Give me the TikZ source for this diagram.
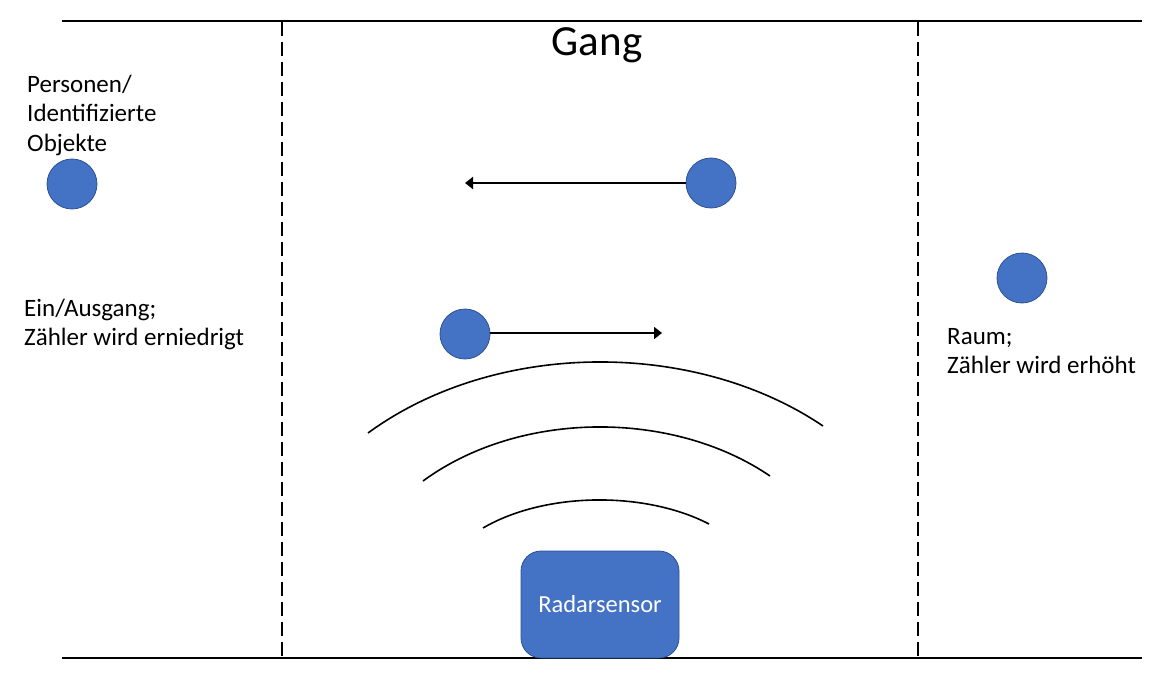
\documentclass[tikz,border=0pt]{standalone}
\usepackage{fontspec}
\setmainfont{Carlito}
\usetikzlibrary{arrows.meta}
\definecolor{objblue}{HTML}{4472C4}
\definecolor{objedge}{HTML}{2F528F}
\tikzset{
  wall/.style={line width=2.8pt, line cap=butt},
  zone/.style={line width=1.8pt, dash pattern=on 14pt off 6pt},
  person/.style={circle, fill=objblue, draw=objedge, line width=0.8pt, minimum size=50pt, inner sep=0pt},
  move/.style={line width=2pt, -{Triangle[length=8pt,width=12pt]}},
  wave/.style={line width=1.6pt},
  lbl/.style={font=\fontsize{25}{29.5}\selectfont, align=left, anchor=base west, inner sep=0pt},
  sensor/.style={rounded corners=20pt, fill=objblue, draw=objedge, line width=0.8pt, minimum width=158pt, minimum height=107pt, text=white, font=\fontsize{24.5}{29}\selectfont, inner sep=0pt}
}
\begin{document}
\begin{tikzpicture}[x=1pt,y=-1pt]
\useasboundingbox (0,0) rectangle (1152,682);
% walls
\coordinate (tl) at (62,21);
\coordinate (tr) at (1142,21);
\coordinate (bl) at (62,658);
\coordinate (br) at (1142,658);
\draw[wall] (tl) -- (tr);
\draw[wall] (bl) -- (br);
% zone borders
\coordinate (d1t) at (282,22);
\coordinate (d1b) at (282,658);
\coordinate (d2t) at (918,22);
\coordinate (d2b) at (918,658);
\draw[zone] (d1t) -- (d1b);
\draw[zone] (d2t) -- (d2b);
% title
\node[font=\fontsize{43}{50}\selectfont, anchor=base, inner sep=0pt] (gang) at (597,56) {Gang};
% labels (anchor = baseline of the last line)
\node[lbl] (personen) at (27,151.5) {Personen/\\Identifizierte\\Objekte};
\node[lbl] (einaus) at (24,345.5) {Ein/Ausgang;\\Zähler wird erniedrigt};
\node[lbl] (raum) at (947,373.5) {Raum;\\Zähler wird erhöht};
% persons
\node[person] (p0) at (72,184) {};
\node[person] (p1) at (711,183) {};
\node[person] (p2) at (465,334) {};
\node[person] (p3) at (1022,278) {};
\coordinate (t1) at (465,183);
\coordinate (t2) at (662,333);
\draw[move] (p1.west) -- (t1);
\draw[move] (p2.east |- t2) -- (t2);
% radar waves
\coordinate (w1a) at (368,433);
\coordinate (w1b) at (823,426);
\coordinate (w2a) at (423,481);
\coordinate (w2b) at (770,476);
\coordinate (w3a) at (483,528);
\coordinate (w3b) at (709,524);
\draw[wave] (w1a) .. controls (496,339.5) and (695,339.5) .. (w1b);
\draw[wave] (w2a) .. controls (520,409.8) and (673,409.8) .. (w2b);
\draw[wave] (w3a) .. controls (546,491.3) and (646,491.3) .. (w3b);
% sensor
\node[sensor] (radar) at (600,604.5) {Radarsensor};
\end{tikzpicture}
\end{document}
